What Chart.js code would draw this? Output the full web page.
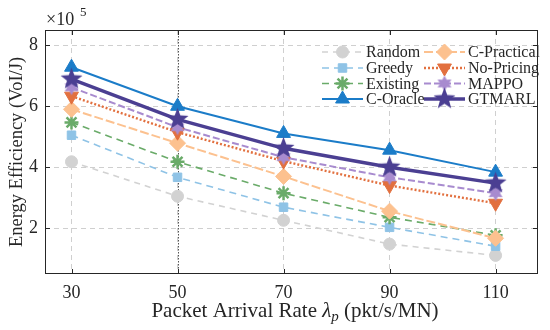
<!DOCTYPE html>
<html>
<head>
<meta charset="utf-8">
<script src="https://cdn.jsdelivr.net/npm/chart.js@4.4.1/dist/chart.umd.min.js"></script>
<style>
html,body{margin:0;padding:0;background:#fff;}
#wrap{width:550px;height:330px;position:relative;}
</style>
</head>
<body>
<div id="wrap"><canvas id="c" width="550" height="330"></canvas></div>
<script>
// ---- data ----
const rates = [30, 50, 70, 90, 110];
const xTicks = [30, 50, 70, 90, 110];
const yTicks = [2, 4, 6, 8];
const seriesNames = ['Random','Greedy','Existing','C-Oracle','C-Practical','No-Pricing','MAPPO','GTMARL'];
const random     = [4.18, 3.05, 2.26, 1.48, 1.11];
const greedy     = [5.05, 3.67, 2.69, 2.03, 1.41];
const existing   = [5.47, 4.18, 3.15, 2.36, 1.77];
const cOracle    = [7.28, 6.00, 5.11, 4.56, 3.84];
const cPractical = [5.90, 4.79, 3.70, 2.56, 1.67];
const noPricing  = [6.33, 5.15, 4.20, 3.40, 2.82];
const mappo      = [6.62, 5.31, 4.33, 3.67, 3.15];
const gtmarl     = [6.89, 5.57, 4.62, 4.00, 3.48];

// ---- custom marker images ----
function starImg(points, rOuter, rInner, color) {
  const s = Math.ceil(rOuter * 2 + 4);
  const cv = document.createElement('canvas');
  cv.width = s; cv.height = s;
  const g = cv.getContext('2d');
  g.beginPath();
  for (let i = 0; i < points * 2; i++) {
    const r = i % 2 === 0 ? rOuter : rInner;
    const a = -Math.PI / 2 + i * Math.PI / points;
    const x = s / 2 + r * Math.cos(a), y = s / 2 + r * Math.sin(a);
    if (i === 0) g.moveTo(x, y); else g.lineTo(x, y);
  }
  g.closePath();
  g.fillStyle = color; g.fill();
  return cv;
}
const C = {
  random: '#d2d2d2', greedy: '#8fc3e6', existing: '#6aab69', cOracle: '#1b7cc8',
  cPractical: '#fcc18f', noPricing: '#e2703f', mappo: '#a88bcf', gtmarl: '#4b3f92'
};
const gtStar = starImg(5, 11.5, 4.8, C.gtmarl);
const mpStar = starImg(6, 8, 4.4, C.mappo);

const styles = [
  {data: random, color: C.random, w: 1.6, dash: [6,5], ps: 'circle', r: 6, rot: 0, bw: 1},
  {data: greedy, color: C.greedy, w: 1.6, dash: [7,5], ps: 'rect', r: 6, rot: 0, bw: 1},
  {data: existing, color: C.existing, w: 1.6, dash: [7,5], ps: 'star', r: 7, rot: 0, bw: 2.5},
  {data: cOracle, color: C.cOracle, w: 2, dash: [], ps: 'triangle', r: 8, rot: 0, bw: 1},
  {data: cPractical, color: C.cPractical, w: 2, dash: [9,3], ps: 'rectRot', r: 8, rot: 0, bw: 1},
  {data: noPricing, color: C.noPricing, w: 2.4, dash: [2,2], ps: 'triangle', r: 8, rot: 180, bw: 1},
  {data: mappo, color: C.mappo, w: 2, dash: [7,3], ps: mpStar, r: 8, rot: 0, bw: 1},
  {data: gtmarl, color: C.gtmarl, w: 3.5, dash: [], ps: gtStar, r: 11, rot: 0, bw: 1}
];

const datasets = styles.map((s, i) => ({
  label: seriesNames[i],
  data: rates.map((x, k) => ({x: x, y: s.data[k]})),
  borderColor: s.color,
  backgroundColor: s.color,
  borderWidth: s.w,
  borderDash: s.dash,
  pointStyle: s.ps,
  pointRadius: s.r,
  pointRotation: s.rot,
  pointBorderWidth: s.bw,
  pointBorderColor: s.color,
  pointBackgroundColor: s.color,
  tension: 0,
  order: 7 - i
}));

const FONT = '"Liberation Serif", "Times New Roman", serif';

const decor = {
  id: 'decor',
  beforeDatasetsDraw(chart) {
    const {ctx, chartArea: a, scales} = chart;
    const x50 = Math.round(scales.x.getPixelForValue(50)) + 0.5;
    ctx.save();
    ctx.strokeStyle = '#555';
    ctx.lineWidth = 1;
    ctx.setLineDash([1.5, 1.5]);
    ctx.beginPath();
    ctx.moveTo(x50, a.top); ctx.lineTo(x50, a.bottom);
    ctx.stroke();
    ctx.restore();
  },
  afterDraw(chart) {
    const {ctx, chartArea: a, scales} = chart;
    ctx.save();
    // box
    ctx.strokeStyle = '#262626';
    ctx.lineWidth = 1;
    ctx.setLineDash([]);
    ctx.strokeRect(a.left + 0.5, a.top + 0.5, a.right - a.left - 1, a.bottom - a.top - 1);
    // inner ticks
    ctx.beginPath();
    xTicks.forEach(v => {
      const px = Math.round(scales.x.getPixelForValue(v)) + 0.5;
      ctx.moveTo(px, a.bottom); ctx.lineTo(px, a.bottom - 5);
      ctx.moveTo(px, a.top); ctx.lineTo(px, a.top + 5);
    });
    yTicks.forEach(v => {
      const py = Math.round(scales.y.getPixelForValue(v)) + 0.5;
      ctx.moveTo(a.left, py); ctx.lineTo(a.left + 5, py);
      ctx.moveTo(a.right, py); ctx.lineTo(a.right - 5, py);
    });
    ctx.stroke();

    // x10^5
    ctx.fillStyle = '#262626';
    ctx.textBaseline = 'alphabetic';
    ctx.textAlign = 'left';
    ctx.font = '18px ' + FONT;
    ctx.fillText('\u00d710', 46, 25);
    ctx.font = '13px ' + FONT;
    ctx.fillText('5', 80, 16);

    // y title
    ctx.save();
    ctx.translate(17, (a.top + a.bottom) / 2);
    ctx.rotate(-Math.PI / 2);
    ctx.textAlign = 'center';
    ctx.textBaseline = 'middle';
    ctx.font = '18.5px ' + FONT;
    ctx.fillText('Energy Efficiency (VoI/J)', 0, 0);
    ctx.restore();

    // x title with lambda_p
    const parts = [
      {t: 'Packet Arrival Rate ', f: '21px ' + FONT, dy: 0},
      {t: '\u03bb', f: 'italic 21px ' + FONT, dy: 0},
      {t: 'p', f: 'italic 15px ' + FONT, dy: 4},
      {t: ' (pkt/s/MN)', f: '21px ' + FONT, dy: 0}
    ];
    let tw = 0;
    parts.forEach(p => { ctx.font = p.f; p.w = ctx.measureText(p.t).width; tw += p.w; });
    let xx = 295 - tw / 2;
    ctx.textAlign = 'left';
    ctx.textBaseline = 'alphabetic';
    parts.forEach(p => { ctx.font = p.f; ctx.fillText(p.t, xx, 317 + p.dy); xx += p.w; });

    // legend
    const cols = [322, 424];
    const rows = [52, 68, 83.5, 99];
    ctx.font = '16px ' + FONT;
    styles.forEach((s, i) => {
      const col = Math.floor(i / 4), row = i % 4;
      const x0 = cols[col], y0 = rows[row];
      ctx.strokeStyle = s.color;
      ctx.fillStyle = s.color;
      ctx.lineWidth = s.w;
      ctx.setLineDash(s.dash);
      ctx.beginPath();
      ctx.moveTo(x0, y0); ctx.lineTo(x0 + 41, y0);
      ctx.stroke();
      ctx.setLineDash([]);
      ctx.lineWidth = s.bw;
      Chart.helpers.drawPoint(ctx, {pointStyle: s.ps, rotation: s.rot, radius: s.r, borderWidth: s.bw}, x0 + 20.5, y0);
      ctx.fillStyle = '#262626';
      ctx.textBaseline = 'middle';
      ctx.textAlign = 'left';
      ctx.fillText(seriesNames[i], x0 + 44, y0 + 1);
    });
    ctx.restore();
  }
};

new Chart(document.getElementById('c'), {
  type: 'line',
  data: {datasets: datasets},
  options: {
    responsive: false,
    animation: false,
    layout: {padding: {left: 0, right: 7, top: 30, bottom: 0}},
    plugins: {legend: {display: false}, tooltip: {enabled: false}},
    scales: {
      x: {
        type: 'linear', min: 25, max: 118,
        afterBuildTicks: s => { s.ticks = xTicks.map(v => ({value: v})); },
        afterFit: s => { s.height = 56; },
        grid: {color: '#cfcfcf', lineWidth: 1, drawTicks: false},
        border: {display: false, dash: [5, 4]},
        ticks: {padding: 8, color: '#262626', font: {family: FONT, size: 18}, maxRotation: 0}
      },
      y: {
        min: 0.5, max: 8.5,
        afterBuildTicks: s => { s.ticks = yTicks.map(v => ({value: v})); },
        afterFit: s => { s.width = 45; },
        grid: {color: '#cfcfcf', lineWidth: 1, drawTicks: false},
        border: {display: false, dash: [5, 4]},
        ticks: {padding: 7, color: '#262626', font: {family: FONT, size: 18}}
      }
    }
  },
  plugins: [decor]
});
</script>
</body>
</html>
